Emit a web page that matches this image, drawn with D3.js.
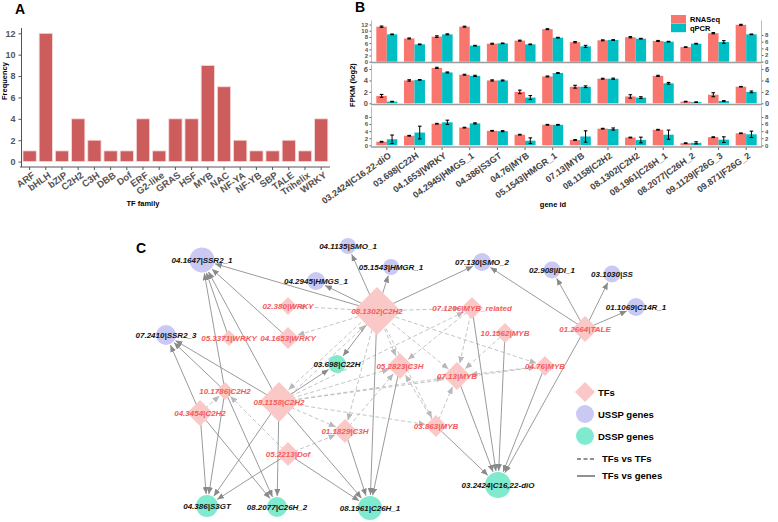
<!DOCTYPE html>
<html>
<head>
<meta charset="utf-8">
<script src="https://cdn.jsdelivr.net/npm/d3@7"></script>
<style>
body { margin: 0; background: #fff; }
text { font-family: "Liberation Sans", Arial, sans-serif; }
</style>
</head>
<body>
<svg id="fig" width="778" height="522"></svg>
<script>
// ---------- panel A data ----------
const tfFamilies = ["ARF","bHLH","bZIP","C2H2","C3H","DBB","Dof","ERF","G2-like","GRAS","HSF","MYB","NAC","NF-YA","NF-YB","SBP","TALE","Trihelix","WRKY"];
const tfFrequency = [1,12,1,4,2,1,1,4,1,4,4,9,7,2,1,1,2,1,4];
const freqTicks = [0,2,4,6,8,10,12];

// ---------- panel B data ----------
const geneIds = ["03.2424|C16,22-diO","03.698|C22H","04.1653|WRKY","04.2945|HMGS_1","04.386|S3GT","04.76|MYB","05.1543|HMGR_1","07.13|MYB","08.1158|C2H2","08.1302|C2H2","08.1961|C26H_1","08.2077|C26H_2","09.1129|F26G_3","09.871|F26G_2"];
const seriesNames = ["RNASeq","qPCR"];
// facet 1
const rnaSeq1    = [11.3,7.5,8.1,11.3,5.8,6.8,10.5,6.3,6.9,7.9,6.7,4.7,9.2,11.9];
const rnaSeqErr1 = [0.2,0.15,0.25,0.15,0.15,0.15,0.15,0.2,0.15,0.2,0.15,0.1,0.2,0.15];
const qpcr1      = [8.2,5.2,8.2,4.8,5.5,5.2,7.2,4.6,6.5,6.9,6.0,5.4,5.9,8.2];
const qpcrErr1   = [0.1,0.1,0.15,0.1,0.1,0.1,0.1,0.3,0.1,0.1,0.1,0.1,0.4,0.1];
// facet 2
const rnaSeq2    = [1.3,4.0,6.2,5.0,4.0,2.0,4.7,2.9,4.3,1.2,4.8,0.3,1.5,2.9];
const rnaSeqErr2 = [0.25,0.12,0.1,0.08,0.1,0.3,0.08,0.25,0.08,0.3,0.1,0.05,0.35,0.05];
const qpcr2      = [0.3,4.1,5.4,4.8,4.0,1.0,5.3,2.9,4.3,1.0,3.5,0.2,0.4,2.0];
const qpcrErr2   = [0.05,0.06,0.08,0.1,0.08,0.35,0.06,0.15,0.1,0.15,0.15,0.05,0.06,0.15];
// facet 3
const rnaSeq3    = [1.0,2.7,6.1,5.0,4.1,3.0,5.8,1.5,4.7,2.2,4.4,0.6,2.3,3.4];
const rnaSeqErr3 = [0.1,0.1,0.1,0.1,0.1,0.1,0.1,0.1,0.1,0.1,0.1,0.1,0.1,0.1];
const qpcr3      = [1.7,3.6,6.5,6.2,4.0,1.3,5.8,2.5,4.6,1.5,3.0,0.7,1.6,3.1];
const qpcrErr3   = [1.2,1.8,0.6,0.15,0.15,0.8,0.1,1.6,0.3,0.8,1.3,0.3,0.8,0.9];
const fpkmTicks1 = [0,2,4,6,8,10,12];
const relTicks1  = [0,2,4,6,8];
const ticks2     = [0,2,4,6];
const ticks3     = [0,2,4,6,8];

// ---------- panel C data ----------
const tfNodes = ["08.1302|C2H2","08.1158|C2H2","07.1206|MYB_related","10.1562|MYB","01.2664|TALE","04.76|MYB","07.13|MYB","05.2823|C3H","03.863|MYB","02.380|WRKY","04.1653|WRKY","05.3371|WRKY","10.1786|C2H2","04.3454|C2H2","01.1829|C3H","05.2213|Dof"];
const usspGenes = ["04.1647|SSR2_1","04.1135|SMO_1","05.1543|HMGR_1","04.2945|HMGS_1","07.130|SMO_2","02.908|IDI_1","03.1030|SS","01.1069|C14R_1","07.2410|SSR2_3"];
const dsspGenes = ["03.698|C22H","04.386|S3GT","08.2077|C26H_2","08.1961|C26H_1","03.2424|C16,22-diO"];
const tfGeneEdges = [
  ["08.1302|C2H2","04.1647|SSR2_1"],["08.1302|C2H2","04.2945|HMGS_1"],["08.1302|C2H2","04.1135|SMO_1"],
  ["08.1302|C2H2","05.1543|HMGR_1"],["08.1302|C2H2","07.130|SMO_2"],["08.1302|C2H2","03.698|C22H"],
  ["08.1302|C2H2","08.1961|C26H_1"],
  ["08.1158|C2H2","03.698|C22H"],["08.1158|C2H2","04.1647|SSR2_1"],["08.1158|C2H2","07.2410|SSR2_3"],
  ["08.1158|C2H2","04.386|S3GT"],["08.1158|C2H2","08.2077|C26H_2"],["08.1158|C2H2","08.1961|C26H_1"],
  ["04.1653|WRKY","04.1647|SSR2_1"],["05.3371|WRKY","04.1647|SSR2_1"],
  ["10.1786|C2H2","04.1647|SSR2_1"],["10.1786|C2H2","07.2410|SSR2_3"],["10.1786|C2H2","04.386|S3GT"],["10.1786|C2H2","08.2077|C26H_2"],
  ["04.3454|C2H2","07.2410|SSR2_3"],["04.3454|C2H2","04.386|S3GT"],["04.3454|C2H2","08.2077|C26H_2"],
  ["05.2213|Dof","04.386|S3GT"],["05.2213|Dof","08.1961|C26H_1"],
  ["01.1829|C3H","08.1961|C26H_1"],["05.2823|C3H","08.1961|C26H_1"],
  ["07.1206|MYB_related","03.2424|C16,22-diO"],["10.1562|MYB","03.2424|C16,22-diO"],["04.76|MYB","03.2424|C16,22-diO"],
  ["07.13|MYB","03.2424|C16,22-diO"],["03.863|MYB","03.2424|C16,22-diO"],
  ["01.2664|TALE","03.2424|C16,22-diO"],["01.2664|TALE","07.130|SMO_2"],["01.2664|TALE","02.908|IDI_1"],
  ["01.2664|TALE","03.1030|SS"],["01.2664|TALE","01.1069|C14R_1"]
];
const tfTfEdges = [
  ["08.1302|C2H2","02.380|WRKY"],["08.1302|C2H2","04.1653|WRKY"],["08.1302|C2H2","07.1206|MYB_related"],
  ["08.1302|C2H2","05.2823|C3H"],["08.1302|C2H2","07.13|MYB"],["08.1302|C2H2","04.76|MYB"],
  ["08.1302|C2H2","03.863|MYB"],["08.1302|C2H2","01.1829|C3H"],["08.1302|C2H2","08.1158|C2H2"],
  ["08.1158|C2H2","08.1302|C2H2"],["08.1158|C2H2","05.2823|C3H"],["08.1158|C2H2","07.13|MYB"],
  ["08.1158|C2H2","04.76|MYB"],["08.1158|C2H2","01.1829|C3H"],["08.1158|C2H2","03.863|MYB"],
  ["08.1158|C2H2","07.1206|MYB_related"],
  ["05.2213|Dof","10.1786|C2H2"],["05.2213|Dof","01.1829|C3H"],["04.3454|C2H2","10.1786|C2H2"],
  ["07.1206|MYB_related","07.13|MYB"],["07.1206|MYB_related","05.2823|C3H"],["10.1562|MYB","07.13|MYB"],
  ["04.76|MYB","07.13|MYB"],["03.863|MYB","07.13|MYB"],["03.863|MYB","05.2823|C3H"],["01.1829|C3H","05.2823|C3H"]
];

// network layout (layout units, node size), kept apart from the data
const nodeLayout = {
  "08.1302|C2H2":[237,71,24], "08.1158|C2H2":[139,162,20], "07.1206|MYB_related":[332,68,11],
  "10.1562|MYB":[365,93,10], "01.2664|TALE":[445,89,13], "04.76|MYB":[405,126,10],
  "07.13|MYB":[317,136,14], "05.2823|C3H":[260,126,13], "03.863|MYB":[296,186,11],
  "02.380|WRKY":[148,66,9], "04.1653|WRKY":[148,98,11], "05.3371|WRKY":[89,98,8],
  "10.1786|C2H2":[85,151,9], "04.3454|C2H2":[60,173,13], "01.1829|C3H":[205,191,12],
  "05.2213|Dof":[148,214,12],
  "04.1647|SSR2_1":[62,20,12.5], "04.1135|SMO_1":[208,6,8], "05.1543|HMGR_1":[251,27,8],
  "04.2945|HMGS_1":[176,41,9], "07.130|SMO_2":[342,22,9], "02.908|IDI_1":[412,30,8.5],
  "03.1030|SS":[472,34,8.5], "01.1069|C14R_1":[496,67,9], "07.2410|SSR2_3":[26,95,10],
  "03.698|C22H":[197,124,9], "04.386|S3GT":[67,266,11], "08.2077|C26H_2":[137,267,10],
  "08.1961|C26H_1":[230,268,12], "03.2424|C16,22-diO":[358,245,13]
};

const svg = d3.select("#fig");
const bold = "bold";
const intFmt = d3.format("d");

// =================== Panel A ===================
svg.append("text").attr("x", 15).attr("y", 14).attr("font-size", 14).attr("font-weight", bold).text("A");

const xA = d3.scaleBand().domain(tfFamilies).range([21.5, 329.3]).paddingInner(0.18).paddingOuter(0.09);
const yA = d3.scaleLinear().domain([0, 12]).range([161.6, 33.3]);
const gA = svg.append("g");

gA.selectAll(".barA")
  .data(tfFamilies)
  .enter().append("rect")
  .attr("class", "barA")
  .attr("x", d => xA(d))
  .attr("y", (d, i) => yA(tfFrequency[i]))
  .attr("width", xA.bandwidth())
  .attr("height", (d, i) => yA(0) - yA(tfFrequency[i]))
  .attr("fill", "#cd5c5c")
  .attr("stroke", "#f6dcdc")
  .attr("stroke-width", 0.8);

const axA_y = gA.append("g")
  .attr("transform", "translate(21.5,0)")
  .call(d3.axisLeft(yA).tickValues(freqTicks).tickSize(3));
axA_y.select(".domain").remove();
axA_y.selectAll("line").attr("stroke", "#555");
axA_y.selectAll("text").attr("font-size", 9).attr("font-weight", bold).attr("fill", "#555");
gA.append("line").attr("x1", 21.5).attr("x2", 21.5).attr("y1", 28).attr("y2", 167).attr("stroke", "#555");

const axA_x = gA.append("g")
  .attr("transform", "translate(0,167)")
  .call(d3.axisBottom(xA).tickSize(3));
axA_x.select(".domain").remove();
axA_x.selectAll("line").attr("stroke", "#555");
axA_x.selectAll("text")
  .attr("font-size", 9.5).attr("font-weight", bold).attr("fill", "#555")
  .attr("text-anchor", "end").attr("x", 0).attr("y", 0).attr("dy", "0.35em")
  .attr("transform", "translate(4,7) rotate(-35)");
gA.append("line").attr("x1", 20).attr("x2", 330).attr("y1", 167).attr("y2", 167).attr("stroke", "#555");

gA.append("text").attr("x", 143).attr("y", 206).attr("text-anchor", "middle")
  .attr("font-size", 7.5).attr("font-weight", bold).text("TF family");
gA.append("text").attr("transform", "translate(7,81) rotate(-90)").attr("text-anchor", "middle")
  .attr("font-size", 7.5).attr("font-weight", bold).text("Frequency");

// =================== Panel B ===================
svg.append("text").attr("x", 355).attr("y", 12).attr("font-size", 14).attr("font-weight", bold).text("B");

const xB = d3.scaleBand().domain(geneIds).range([373, 760]).paddingInner(0.24).paddingOuter(0.12);
const xSub = d3.scaleBand().domain(seriesNames).range([0, xB.bandwidth()]);
const colB = d3.scaleOrdinal().domain(seriesNames).range(["#F8766D", "#00BFC4"]);
const gB = svg.append("g");

const facetLayout = [
  { top: 20.5, bottom: 62.5, base: 61.7, lMax: 12, lTop: 24.5, rMax: 8, rTop: 35, fs: 6 },
  { top: 64.5, bottom: 104.5, base: 103.3, lMax: 6, lTop: 69, rMax: 6, rTop: 69, fs: 7.5 },
  { top: 106.5, bottom: 147, base: 145.3, lMax: 8, lTop: 117, rMax: 8, rTop: 117, fs: 6 }
];
const facetValues = [
  [rnaSeq1, rnaSeqErr1, qpcr1, qpcrErr1, fpkmTicks1, relTicks1],
  [rnaSeq2, rnaSeqErr2, qpcr2, qpcrErr2, ticks2, ticks2],
  [rnaSeq3, rnaSeqErr3, qpcr3, qpcrErr3, ticks3, ticks3]
];

facetLayout.forEach((f, i) => {
  const [rna, rnaE, qp, qpE, lTicks, rTicks] = facetValues[i];
  const yL = d3.scaleLinear().domain([0, f.lMax]).range([f.base, f.lTop]);
  const yR = d3.scaleLinear().domain([0, f.rMax]).range([f.base, f.rTop]);
  const rows = geneIds.map((g, j) => ({ gene: g, series: "RNASeq", v: rna[j], e: rnaE[j], y: yL }))
    .concat(geneIds.map((g, j) => ({ gene: g, series: "qPCR", v: qp[j], e: qpE[j], y: yR })));
  const g = gB.append("g");

  g.selectAll("rect")
    .data(rows)
    .enter().append("rect")
    .attr("x", d => xB(d.gene) + xSub(d.series))
    .attr("y", d => d.y(d.v))
    .attr("width", xSub.bandwidth())
    .attr("height", d => d.y(0) - d.y(d.v))
    .attr("fill", d => colB(d.series));

  const eb = g.selectAll(".eb").data(rows).enter().append("g").attr("class", "eb")
    .attr("transform", d => "translate(" + (xB(d.gene) + xSub(d.series) + xSub.bandwidth() / 2) + ",0)");
  eb.append("line").attr("y1", d => d.y(d.v - d.e)).attr("y2", d => d.y(d.v + d.e)).attr("stroke", "#000").attr("stroke-width", 1);
  eb.append("line").attr("x1", -1.8).attr("x2", 1.8).attr("y1", d => d.y(d.v + d.e)).attr("y2", d => d.y(d.v + d.e)).attr("stroke", "#000").attr("stroke-width", 1.1);
  eb.append("line").attr("x1", -1.8).attr("x2", 1.8).attr("y1", d => d.y(d.v - d.e)).attr("y2", d => d.y(d.v - d.e)).attr("stroke", "#000").attr("stroke-width", 1.1);

  const axL = g.append("g").attr("transform", "translate(371.5,0)")
    .call(d3.axisLeft(yL).tickValues(lTicks).tickFormat(intFmt).tickSize(2).tickPadding(1.5));
  axL.select(".domain").remove();
  axL.selectAll("line").attr("stroke", "#666");
  axL.selectAll("text").attr("font-size", f.fs).attr("font-weight", bold).attr("fill", "#555");

  const axR = g.append("g").attr("transform", "translate(761.5,0)")
    .call(d3.axisRight(yR).tickValues(rTicks).tickFormat(intFmt).tickSize(2).tickPadding(1.5));
  axR.select(".domain").remove();
  axR.selectAll("line").attr("stroke", "#666");
  axR.selectAll("text").attr("font-size", f.fs).attr("font-weight", bold).attr("fill", "#555");

  g.append("line").attr("x1", 371.5).attr("x2", 371.5).attr("y1", f.top).attr("y2", f.bottom).attr("stroke", "#aaa").attr("stroke-width", 0.8);
  g.append("line").attr("x1", 761.5).attr("x2", 761.5).attr("y1", f.top).attr("y2", f.bottom).attr("stroke", "#aaa").attr("stroke-width", 0.8);
  g.append("line").attr("x1", 371).attr("x2", 762).attr("y1", f.bottom).attr("y2", f.bottom).attr("stroke", "#9c9c9c").attr("stroke-width", 1.6);
});

const axB_x = gB.append("g").attr("transform", "translate(0,147.5)")
  .call(d3.axisBottom(xB).tickSize(2.5));
axB_x.select(".domain").remove();
axB_x.selectAll("line").attr("stroke", "#666");
axB_x.selectAll("text")
  .attr("font-size", 9).attr("font-weight", bold).attr("fill", "#444")
  .attr("text-anchor", "end").attr("x", 0).attr("y", 0).attr("dy", "0.35em")
  .attr("transform", "translate(3,7) rotate(-35)");

gB.append("text").attr("x", 553).attr("y", 207).attr("text-anchor", "middle")
  .attr("font-size", 7.5).attr("font-weight", bold).text("gene id");
gB.append("text").attr("transform", "translate(355,85) rotate(-90)").attr("text-anchor", "middle")
  .attr("font-size", 7.5).attr("font-weight", bold).text("FPKM (log2)");
svg.append("clipPath").attr("id", "relClip").append("rect").attr("x", 762).attr("y", 40).attr("width", 20).attr("height", 72);
gB.append("text").attr("clip-path", "url(#relClip)").attr("transform", "translate(770,48) rotate(90)")
  .attr("font-size", 8).attr("font-weight", bold).text("relative expression");

const legB = gB.append("g").attr("transform", "translate(671,15)");
seriesNames.forEach((s, i) => {
  legB.append("rect").attr("x", 0).attr("y", i * 8.7).attr("width", 15).attr("height", 8.5).attr("fill", colB(s));
  legB.append("text").attr("x", 19).attr("y", i * 8.7 + 7).attr("font-size", 7.5).attr("font-weight", bold).text(s);
});

// =================== Panel C ===================
svg.append("text").attr("x", 136).attr("y", 253).attr("font-size", 14).attr("font-weight", bold).text("C");

const xC = d3.scaleLinear().domain([0, 520]).range([140, 660]);
const yC = d3.scaleLinear().domain([0, 280]).range([240, 520]);
const nodeType = {};
tfNodes.forEach(n => nodeType[n] = "TF");
usspGenes.forEach(n => nodeType[n] = "USSP");
dsspGenes.forEach(n => nodeType[n] = "DSSP");
const fillC = { TF: "#fbc8c8", USSP: "#c9c9f4", DSSP: "#80eacf" };

const defs = svg.append("defs");
[["arrSolid", "#8a8a8a"], ["arrDash", "#b8b8b8"]].forEach(([id, c]) => {
  defs.append("marker").attr("id", id).attr("viewBox", "0 -3 7 6").attr("refX", 7).attr("refY", 0)
    .attr("markerWidth", 7).attr("markerHeight", 6).attr("markerUnits", "userSpaceOnUse").attr("orient", "auto")
    .append("path").attr("d", "M0,-3L7,0L0,3Z").attr("fill", c);
});

function edgeGeom(e, all) {
  const s = nodeLayout[e[0]], t = nodeLayout[e[1]];
  const x1 = xC(s[0]), y1 = yC(s[1]), x2 = xC(t[0]), y2 = yC(t[1]);
  const dx = x2 - x1, dy = y2 - y1, len = Math.hypot(dx, dy);
  const ux = dx / len, uy = dy / len;
  const back = all.some(o => o[0] === e[1] && o[1] === e[0]);
  const off = back ? 2.5 : 0;
  const px = -uy * off, py = ux * off;
  const rt = nodeType[e[1]] === "TF" ? t[2] / (Math.abs(ux) + Math.abs(uy)) : t[2];
  return { x1: x1 + px, y1: y1 + py, x2: x2 - ux * (rt + 1) + px, y2: y2 - uy * (rt + 1) + py };
}

const gC = svg.append("g");
gC.selectAll(".edgeTT").data(tfTfEdges).enter().append("line").attr("class", "edgeTT")
  .each(function (e) { const g = edgeGeom(e, tfTfEdges); d3.select(this).attr("x1", g.x1).attr("y1", g.y1).attr("x2", g.x2).attr("y2", g.y2); })
  .attr("stroke", "#bdbdbd").attr("stroke-width", 0.9).attr("stroke-dasharray", "4,2.5")
  .attr("marker-end", "url(#arrDash)");
gC.selectAll(".edgeTG").data(tfGeneEdges).enter().append("line").attr("class", "edgeTG")
  .each(function (e) { const g = edgeGeom(e, tfGeneEdges); d3.select(this).attr("x1", g.x1).attr("y1", g.y1).attr("x2", g.x2).attr("y2", g.y2); })
  .attr("stroke", "#8f8f8f").attr("stroke-width", 0.9)
  .attr("marker-end", "url(#arrSolid)");

const allNodes = tfNodes.concat(usspGenes, dsspGenes);
const nodes = gC.selectAll(".node").data(allNodes).enter().append("g").attr("class", "node")
  .attr("transform", d => "translate(" + xC(nodeLayout[d][0]) + "," + yC(nodeLayout[d][1]) + ")");
nodes.filter(d => nodeType[d] === "TF").append("path")
  .attr("d", d => { const h = nodeLayout[d][2]; return "M0," + (-h) + "L" + h + ",0L0," + h + "L" + (-h) + ",0Z"; })
  .attr("fill", fillC.TF);
nodes.filter(d => nodeType[d] !== "TF").append("circle")
  .attr("r", d => nodeLayout[d][2]).attr("fill", d => fillC[nodeType[d]]);
nodes.append("text").attr("text-anchor", "middle").attr("dy", "0.35em")
  .attr("font-size", 8).attr("font-weight", bold).attr("font-style", "italic")
  .attr("fill", d => nodeType[d] === "TF" ? "#f25c5c" : "#111")
  .text(d => d);

// legend
const legC = gC.append("g").attr("transform", "translate(585,0)");
legC.append("path").attr("d", "M0,382L10,392L0,402L-10,392Z").attr("fill", fillC.TF);
legC.append("circle").attr("cx", 0).attr("cy", 414).attr("r", 9).attr("fill", fillC.USSP);
legC.append("circle").attr("cx", 0).attr("cy", 436).attr("r", 9).attr("fill", fillC.DSSP);
legC.append("line").attr("x1", -8).attr("x2", 9).attr("y1", 459).attr("y2", 459).attr("stroke", "#222").attr("stroke-width", 1).attr("stroke-dasharray", "4,2.5");
legC.append("line").attr("x1", -8).attr("x2", 10).attr("y1", 476).attr("y2", 476).attr("stroke", "#222").attr("stroke-width", 1);
[["TFs", 395.5, 13], ["USSP genes", 417.5, 13], ["DSSP genes", 439.5, 13], ["TFs vs TFs", 462, 17], ["TFs vs genes", 479, 17]]
  .forEach(([t, y, x]) => legC.append("text").attr("x", x).attr("y", y).attr("font-size", 9.5).attr("font-weight", bold).text(t));
</script>
</body>
</html>
